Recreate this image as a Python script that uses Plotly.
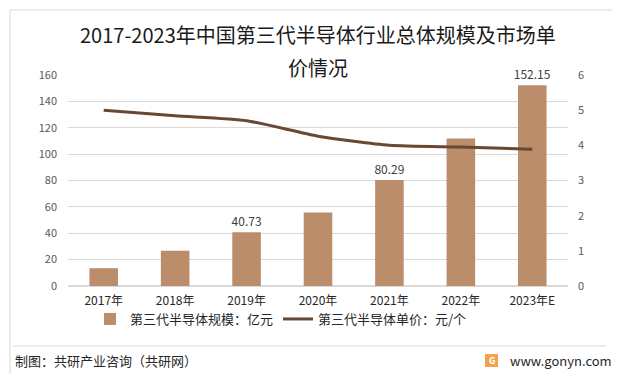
import plotly.graph_objects as go

years = ["2017年", "2018年", "2019年", "2020年", "2021年", "2022年", "2023年E"]
scale = [13.5, 26.8, 40.73, 55.7, 80.29, 111.8, 152.15]
price = [5.0, 4.84, 4.70, 4.26, 4.0, 3.95, 3.89]
labels = ["", "", "40.73", "", "80.29", "", "152.15"]
left_ticks = [0, 20, 40, 60, 80, 100, 120, 140, 160]
right_ticks = [0, 1, 2, 3, 4, 5, 6]
title_lines = ["2017-2023年中国第三代半导体行业总体规模及市场单", "价情况"]

FONT = "Noto Sans CJK SC"
W, H = 620, 374
L, R, T, B = 60, 60, 67, 96
PW, PH = W - L - R, H - T - B


def px(x):
    return (x - L) / PW


def py(y):
    return (H - B - y) / PH


fig = go.Figure()
fig.add_trace(go.Bar(
    x=years, y=scale, name="第三代半导体规模：亿元",
    marker=dict(color="#BC8D6B", line=dict(width=0)),
    text=labels, textposition="outside", cliponaxis=False, constraintext="none",
    textfont=dict(size=12, color="#404040", family=FONT),
))
fig.add_trace(go.Scatter(
    x=years, y=price, name="第三代半导体单价：元/个", yaxis="y2",
    mode="lines", line=dict(color="#674832", width=3, shape="spline", smoothing=0.6),
))

fig.update_layout(
    width=W, height=H,
    margin=dict(l=L, r=R, t=T, b=B),
    paper_bgcolor="white", plot_bgcolor="white",
    font=dict(family=FONT, size=12, color="#333333"),
    bargap=0.6,
    showlegend=True,
    xaxis=dict(
        tickfont=dict(size=12, color="#262626"), showgrid=False,
        showline=False, ticks="", ticklabelstandoff=6,
    ),
    yaxis=dict(
        range=[0, 160], tickvals=left_ticks, showgrid=True, gridcolor="#D9D9D9",
        gridwidth=1, zeroline=True, zerolinecolor="#D9D9D9", showline=False,
        tickfont=dict(size=11, color="#595959"), ticks="", ticklabelstandoff=10,
    ),
    yaxis2=dict(
        range=[0, 6], tickvals=right_ticks, overlaying="y", side="right",
        showgrid=False, zeroline=False, showline=False,
        tickfont=dict(size=11, color="#595959"), ticks="", ticklabelstandoff=9,
    ),
    legend=dict(
        orientation="h", x=px(82), xanchor="left", y=py(311), yanchor="middle",
        font=dict(size=13, color="#262626"), bgcolor="rgba(0,0,0,0)",
        traceorder="normal", itemwidth=30,
    ),
)

shapes = [
    dict(type="rect", xref="paper", yref="paper", x0=px(2), x1=px(612), y0=py(369), y1=py(2),
         line=dict(color="#D9D9D9", width=1), fillcolor="rgba(0,0,0,0)", layer="below"),
    dict(type="line", xref="paper", yref="paper", x0=px(5), x1=px(598), y0=py(338), y1=py(338),
         line=dict(color="#D9D9D9", width=1)),
    dict(type="rect", xref="paper", yref="paper", x0=px(477), x1=px(490), y0=py(359), y1=py(346),
         line=dict(width=0), fillcolor="#F4A24E"),
]
fig.update_layout(shapes=shapes)

for text, yy in zip(title_lines, [26, 59]):
    fig.add_annotation(text=text, xref="paper", yref="paper", x=px(310), y=py(yy),
                       xanchor="center", yanchor="middle", showarrow=False,
                       font=dict(size=20, color="#1a1a1a", family=FONT))

fig.add_annotation(text="制图：共研产业咨询（共研网）", xref="paper", yref="paper",
                   x=px(5), y=py(352), xanchor="left", yanchor="middle", showarrow=False,
                   font=dict(size=13, color="#262626", family=FONT))
fig.add_annotation(text="www.gonyn.com", xref="paper", yref="paper",
                   x=px(606), y=py(352), xanchor="right", yanchor="middle", showarrow=False,
                   font=dict(size=13, color="#262626", family=FONT))
fig.add_annotation(text="<b>G</b>", xref="paper", yref="paper",
                   x=px(483.5), y=py(352.5), xanchor="center", yanchor="middle", showarrow=False,
                   font=dict(size=9, color="white", family=FONT))

fig.write_html("out.html")
